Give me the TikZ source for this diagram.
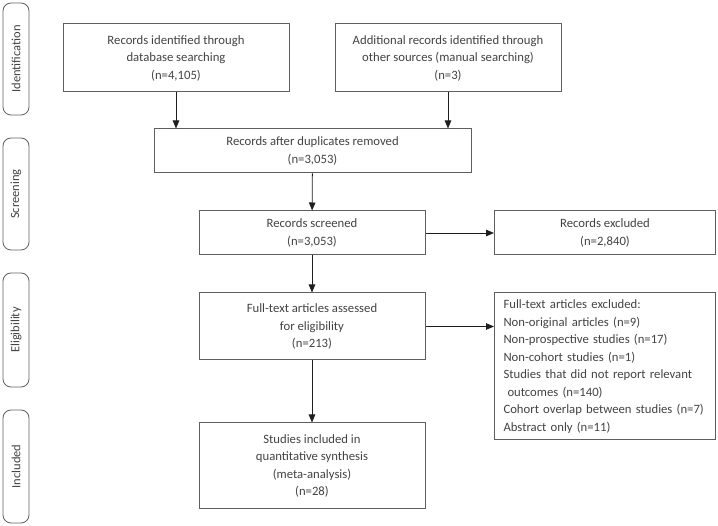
\documentclass[tikz,border=0pt]{standalone}
\usepackage{fontspec}
\setmainfont{Carlito}
\usepackage{xcolor}
\definecolor{grisTexto}{RGB}{66,66,66}
\definecolor{grisLinea}{RGB}{95,95,95}
\definecolor{negroFlecha}{RGB}{30,30,30}
\usepackage{tikz}
\usetikzlibrary{arrows.meta,shapes,calc,positioning}
\tikzstyle{edge}  =[-{Triangle[length=8pt,width=6.5pt]},
                    line width=0.8pt, negroFlecha]
\tikzstyle{box}   =[rectangle, draw=grisLinea, line width=1pt,
                    align=center, text=grisTexto, inner sep=0pt,
                    font=\fontsize{12.7}{17.5}\selectfont]
\tikzstyle{phase} =[rectangle, rounded corners=8pt, draw=grisLinea,
                    line width=0.8pt, rotate=90, minimum height=26pt,
                    inner sep=0pt, text=grisTexto,
                    font=\fontsize{12.5}{14}\selectfont]

\begin{document}
\begin{tikzpicture}[x=1pt,y=-1pt]
    \useasboundingbox (0,0) rectangle (718,526);

    % phases
    \draw (16,59)    node (ident) [phase, minimum width=112pt] {Identification};
    \draw (16,194)   node (screen) [phase, minimum width=112pt] {Screening};
    \draw (16,330)   node (elig) [phase, minimum width=114pt] {Eligibility};
    \draw (16,466.5) node (incl) [phase, minimum width=113pt] {Included};

    % boxes
    \draw (176,58) node (db) [box, minimum width=226pt, minimum height=68pt]
        {Records identified through\\database searching\\(n=4,105)};
    \draw (448,58) node (other) [box, minimum width=226pt, minimum height=68pt]
        {Additional records identified through\\other sources (manual searching)\\(n=3)};
    \draw (312.5,151) node (dup) [box, minimum width=317pt, minimum height=44pt]
        {Records after duplicates removed\\(n=3,053)};
    \draw (312,233) node (scr) [box, minimum width=226pt, minimum height=44pt]
        {Records screened\\(n=3,053)};
    \draw (605,233) node (exc) [box, minimum width=221pt, minimum height=44pt]
        {Records excluded\\(n=2,840)};
    \draw (312,326.5) node (full) [box, minimum width=226pt, minimum height=67pt]
        {Full-text articles assessed\\for eligibility\\(n=213)};
    \draw (605,366.5) node (fexc) [box, align=left, text width=203pt,
        inner xsep=9pt, minimum height=147pt]
        {Full-text articles excluded:\\
         Non-original articles (n=9)\\
         Non-prospective studies (n=17)\\
         Non-cohort studies (n=1)\\
         Studies that did not report relevant\\
         \hspace{4pt}outcomes (n=140)\\
         Cohort overlap between studies (n=7)\\
         Abstract only (n=11)};
    \draw (312,466) node (syn) [box, minimum width=226pt, minimum height=86pt]
        {Studies included in\\quantitative synthesis\\(meta-analysis)\\(n=28)};

    % arrows
    \draw [edge] (db) -- (db |- dup.north);
    \draw [edge] (other) -- (other |- dup.north);
    \foreach \i/\j in {dup/scr,scr/exc,scr/full,full/syn}
        \draw [edge] (\i) to (\j);
    \draw [edge] (full) -- (full -| fexc.west);
\end{tikzpicture}
\end{document}
